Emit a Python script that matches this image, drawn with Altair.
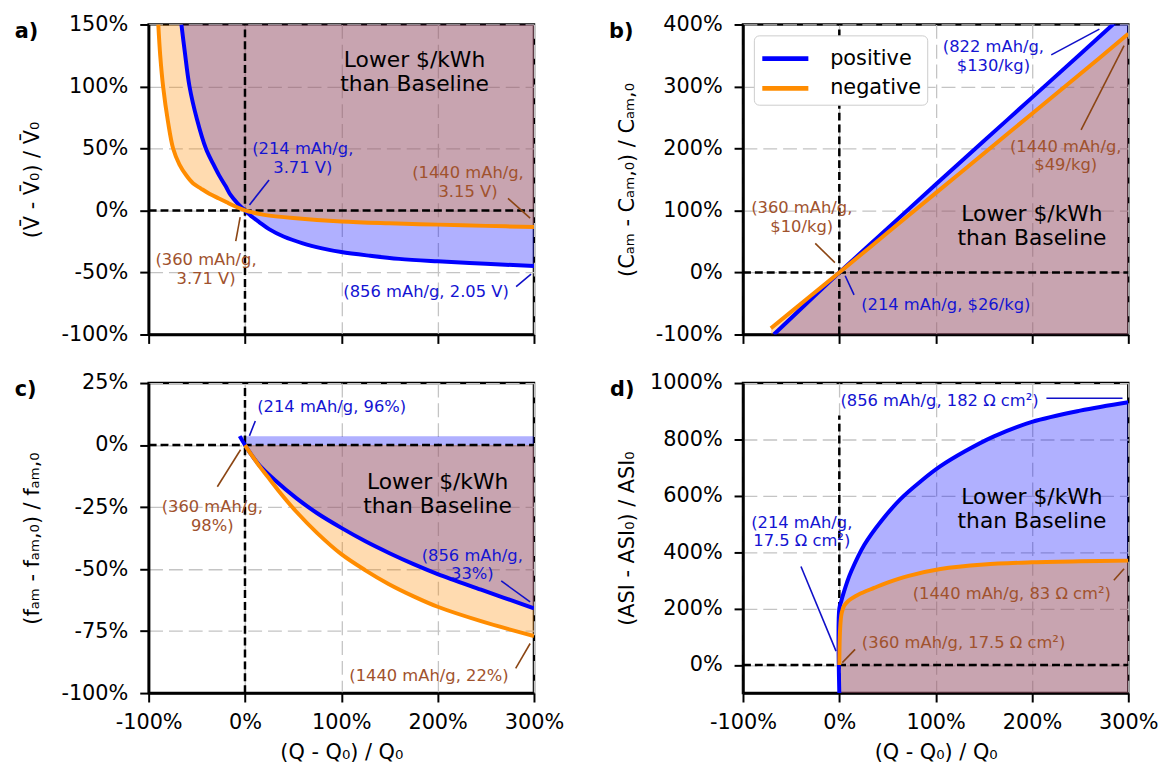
import altair as alt
import pandas as pd

X_TICKS = [-100, 0, 100, 200, 300]
X_DOMAIN = [-100, 300]

# ---------- panel a : voltage ----------
A_BLUE_X = [-66, -62.5, -57.6, -50, -40.6, -33, -27, -20, -15, -8, 0, 8, 15, 25, 40, 60, 80, 100, 130, 160, 200, 250, 300]
A_BLUE_Y = [150, 128, 100, 74, 50, 37.5, 28.5, 19.5, 12.5, 6, 0, -5.5, -9.5, -15, -21, -26.5, -30.5, -33.5, -36.5, -39, -41, -43, -44.7]
A_ORANGE_X = [-90, -88, -85, -80, -74.6, -68, -61, -54, -45.7, -37, -27, -19, -11.6, -5, 0, 10, 20, 50, 100, 150, 200, 250, 300]
A_ORANGE_Y = [150, 125, 100, 72, 50, 37, 28.4, 22, 17.7, 13.5, 9.7, 6.6, 3.8, 1.6, 0, -2, -3.5, -6, -8.8, -10.3, -11.4, -12.4, -13.3]
A_YTICKS = [-100, -50, 0, 50, 100, 150]

# ---------- panel b : active-material cost ----------
B_BLUE_X = [-68, -30, 0, 50, 100, 150, 200, 250, 284, 300]
B_BLUE_Y = [-100, -44, 0, 71, 142, 212, 282, 352, 400, 422]
B_ORANGE_X = [-71, -30, 0, 50, 100, 150, 200, 250, 300]
B_ORANGE_Y = [-90, -38, 0, 64, 128, 192, 256, 320, 385]
B_YTICKS = [-100, 0, 100, 200, 300, 400]

# ---------- panel c : active-material fraction ----------
C_BLUE_X = [-5.5, 0, 5, 15, 30, 53.6, 75, 100, 125, 150, 175, 200, 245, 300]
C_BLUE_Y = [3.6, 0, -3, -8.2, -13.8, -21.5, -27.5, -33.4, -38.8, -43.6, -48, -52, -58.3, -65.8]
C_ORANGE_X = [0, 7.7, 15, 23, 35, 53.6, 75, 100, 125, 149, 175, 200, 245, 300]
C_ORANGE_Y = [0, -4.5, -8.5, -12.5, -18.5, -27, -35.5, -44, -50.5, -56, -61, -65.2, -71, -77]
C_YTICKS = [-100, -75, -50, -25, 0, 25]

# ---------- panel d : area-specific impedance ----------
D_BLUE_X = [0, 0, 2, 4, 8, 12.4, 26, 43, 64, 84, 105, 130, 160, 200, 250, 300]
D_BLUE_Y = [-100, 200, 226, 250, 293, 332, 426, 508, 590, 650, 705, 757, 810, 862, 902, 932]
D_ORANGE_X = [0, 0.5, 1.5, 2.5, 5, 9, 13, 20, 36, 50, 71, 105, 150, 200, 250, 300]
D_ORANGE_Y = [0, 100, 160, 185, 210, 226, 236, 250, 273, 292, 315, 340, 356, 364, 368, 370]
D_YTICKS = [0, 200, 400, 600, 800, 1000]

# annotation texts: (x, y of first line, text, group)
A_TEXT = [(60, 49.7, "(214 mAh/g,\n3.71 V)", "b"), (-40.4, -40.2, "(360 mAh/g,\n3.71 V)", "o"),
          (231.5, 29.8, "(1440 mAh/g,\n3.15 V)", "o"), (188, -65.4, "(856 mAh/g, 2.05 V)", "b")]
A_LEAD = [(25, 24.5, 4.6, 4.5, "b"), (-5, -5.3, -9.6, -24.7, "o"), (273, 9.8, 296, -6.1, "o"), (281.5, -61.4, 297, -51.3, "b")]
B_TEXT = [(160, 364, "(822 mAh/g,\n$130/kg)", "b"), (235, 203, "(1440 mAh/g,\n$49/kg)", "o"),
          (-39, 104, "(360 mAh/g,\n$10/kg)", "o"), (110.5, -53, "(214 mAh/g, $26/kg)", "b")]
B_LEAD = [(220, 351, 270, 392.5, "b"), (251, 230, 295.6, 366, "o"), (-25, 47, -4.6, 16, "o"), (6.1, -5.3, 15.3, -36, "b")]
C_TEXT = [(90, 15.4, "(214 mAh/g, 96%)", "b"), (-34, -25, "(360 mAh/g,\n98%)", "o"),
          (236, -44.6, "(856 mAh/g,\n33%)", "b"), (191, -93, "(1440 mAh/g, 22%)", "o")]
C_LEAD = [(10.7, 9.7, 4.6, 3.7, "b"), (-28.7, -16.8, -4.6, -1.9, "o"), (266, -54.8, 296, -63.2, "b"), (281, -90, 296, -80, "o")]
D_TEXT = [(104, 935, "(856 mAh/g, 182 Ω cm²)", "b"), (-39, 505, "(214 mAh/g,\n17.5 Ω cm²)", "b"),
          (179, 253, "(1440 mAh/g, 83 Ω cm²)", "o"), (129, 76, "(360 mAh/g, 17.5 Ω cm²)", "o")]
D_LEAD = [(215, 946, 294, 946, "b"), (-39.8, 349, -3.4, 49, "b"), (285, 300, 295.6, 341, "o"), (3.1, 8.2, 16.4, 55, "o")]

BIG_TEXT = "Lower $/kWh\nthan Baseline"

BLUE = "#0000ff"
ORANGE = "#ff8c00"
TXT_COL = {"b": "#1414d2", "o": "#a0522d"}
LEAD_COL = {"b": "#1010c8", "o": "#8b4513"}
W, H = 389, 313
CURVE = "catmull-rom"


def panel(bx, by, ox, oy, b_cap, o_cap, ydom, yticks, ytitle, texts, leads,
          big_xy, tag, tag_xy, vline, bottom, legend=False):
    xs = alt.Scale(domain=X_DOMAIN, nice=False, zero=False)
    ys = alt.Scale(domain=ydom, nice=False, zero=False)
    if bottom:
        xa = alt.Axis(values=X_TICKS, labelExpr="datum.value + '%'", title="(Q - Q₀) / Q₀",
                      titlePadding=9, tickSize=9, labelPadding=10, labelFlush=False, labelOverlap=False)
    else:
        xa = alt.Axis(values=X_TICKS, labels=False, title=None, tickSize=9)
    ya = alt.Axis(values=yticks, labelExpr="datum.value + '%'", title=ytitle, tickSize=9, labelPadding=12,
                  labelFlush=False, labelOverlap=False, minExtent=96, maxExtent=96, titlePadding=11)

    def X(f):
        return alt.X(f"{f}:Q", scale=xs, axis=xa)

    def Y(f):
        return alt.Y(f"{f}:Q", scale=ys, axis=ya)

    bdf = pd.DataFrame({"x": bx, "y": by, "i": range(len(bx))})
    odf = pd.DataFrame({"x": ox, "y": oy, "i": range(len(ox))})
    cdf = pd.concat([bdf.assign(electrode="positive"), odf.assign(electrode="negative")])

    blue_area = alt.Chart(bdf).mark_area(color=BLUE, opacity=0.31, clip=True, interpolate=CURVE).encode(
        x=X("x"), y=Y("y"), y2=alt.datum(b_cap))
    orange_area = alt.Chart(odf).mark_area(color=ORANGE, opacity=0.31, clip=True, interpolate=CURVE).encode(
        x=X("x"), y=Y("y"), y2=alt.datum(o_cap))

    vdf = pd.DataFrame({"x": [0], "y1": [vline[0]], "y2": [vline[1]]})
    hdf = pd.DataFrame({"y": [0], "x1": [X_DOMAIN[0]], "x2": [X_DOMAIN[1]]})
    vrule = alt.Chart(vdf).mark_rule(color="black", strokeWidth=2.5, strokeDash=[8, 4]).encode(
        x=X("x"), y=Y("y1"), y2="y2:Q")
    hrule = alt.Chart(hdf).mark_rule(color="black", strokeWidth=2.5, strokeDash=[8, 4]).encode(
        y=Y("y"), x=X("x1"), x2="x2:Q")

    if legend:
        leg = alt.Legend(orient="top-left", offset=11, title=None, labelFontSize=21,
                         symbolType="M-1,0H2.1", symbolStrokeWidth=5, symbolSize=900,
                         labelOffset=36, rowPadding=2, padding=6,
                         strokeColor="#cccccc", fillColor="white", cornerRadius=5)
    else:
        leg = None
    lines = alt.Chart(cdf).mark_line(strokeWidth=4, clip=True, interpolate=CURVE).encode(
        x=X("x"), y=Y("y"), order="i:Q",
        color=alt.Color("electrode:N", scale=alt.Scale(domain=["positive", "negative"], range=[BLUE, ORANGE]),
                        legend=leg))

    layers = [blue_area, orange_area, vrule, hrule, lines]

    ldf = pd.DataFrame(leads, columns=["x1", "y1", "x2", "y2", "g"])
    tdf = pd.DataFrame(texts, columns=["x", "y", "t", "g"])
    for g in ["b", "o"]:
        layers.append(alt.Chart(ldf[ldf.g == g]).mark_rule(color=LEAD_COL[g], strokeWidth=1.6).encode(
            x=X("x1"), y=Y("y1"), x2="x2:Q", y2="y2:Q"))
        layers.append(alt.Chart(tdf[tdf.g == g]).mark_text(
            color=TXT_COL[g], fontSize=16.5, lineBreak="\n", lineHeight=19,
            align="center", baseline="middle").encode(x=X("x"), y=Y("y"), text="t:N"))

    bigdf = pd.DataFrame({"x": [big_xy[0]], "y": [big_xy[1]], "t": [BIG_TEXT]})
    layers.append(alt.Chart(bigdf).mark_text(color="black", fontSize=22, lineBreak="\n", lineHeight=25,
                                             align="center", baseline="middle").encode(
        x=X("x"), y=Y("y"), text="t:N"))
    tagdf = pd.DataFrame({"x": [tag_xy[0]], "y": [tag_xy[1]], "t": [tag]})
    layers.append(alt.Chart(tagdf).mark_text(color="black", fontSize=21, fontWeight="bold",
                                             align="left", baseline="alphabetic").encode(
        x=X("x"), y=Y("y"), text="t:N"))
    return alt.layer(*layers).properties(width=W, height=H)


pa = panel(A_BLUE_X, A_BLUE_Y, A_ORANGE_X, A_ORANGE_Y, 150, 150, [-100, 150], A_YTICKS,
           "(V̄ - V̄₀) / V̄₀", A_TEXT, A_LEAD, (176, 121.5), "a)", (-239, 139), (-100, 150), False)
pb = panel(B_BLUE_X, B_BLUE_Y, B_ORANGE_X, B_ORANGE_Y, -100, -100, [-100, 400], B_YTICKS,
           "(Cₐₘ - Cₐₘ,₀) / Cₐₘ,₀", B_TEXT, B_LEAD, (200, 94.7), "b)", (-239, 377.6), (-100, 400), False,
           legend=True)
pc = panel(C_BLUE_X, C_BLUE_Y, C_ORANGE_X, C_ORANGE_Y, 3.6, 0, [-100, 25], C_YTICKS,
           "(fₐₘ - fₐₘ,₀) / fₐₘ,₀", C_TEXT, C_LEAD, (200, -14.8), "c)", (-239, 19.8), (-100, 25), True)
pd_ = panel(D_BLUE_X, D_BLUE_Y, D_ORANGE_X, D_ORANGE_Y, -100, -100, [-100, 1000], D_YTICKS,
            "(ASI - ASI₀) / ASI₀", D_TEXT, D_LEAD, (200, 597), "d)", (-238, 954), (-100, 885), True)

chart = alt.concat(pa, pb, pc, pd_, columns=2, spacing={"row": 24, "column": 42}, align="each").resolve_scale(
    color="independent"
).properties(
    padding={"left": 5, "top": 0, "right": 0, "bottom": 0}, background="white"
).configure(font="DejaVu Sans").configure_view(
    stroke="black", strokeWidth=2.5
).configure_axis(
    labelFontSize=21, titleFontSize=21, titleFontWeight="normal", labelColor="black", titleColor="black",
    tickColor="black", tickWidth=2, domainColor="black", domainWidth=2.5,
    gridColor="#c4c4c4", gridDash=[14, 6], gridWidth=1.3, labelFont="DejaVu Sans", titleFont="DejaVu Sans"
)

chart.save("out.html", embed_options={"renderer": "svg", "actions": False})
